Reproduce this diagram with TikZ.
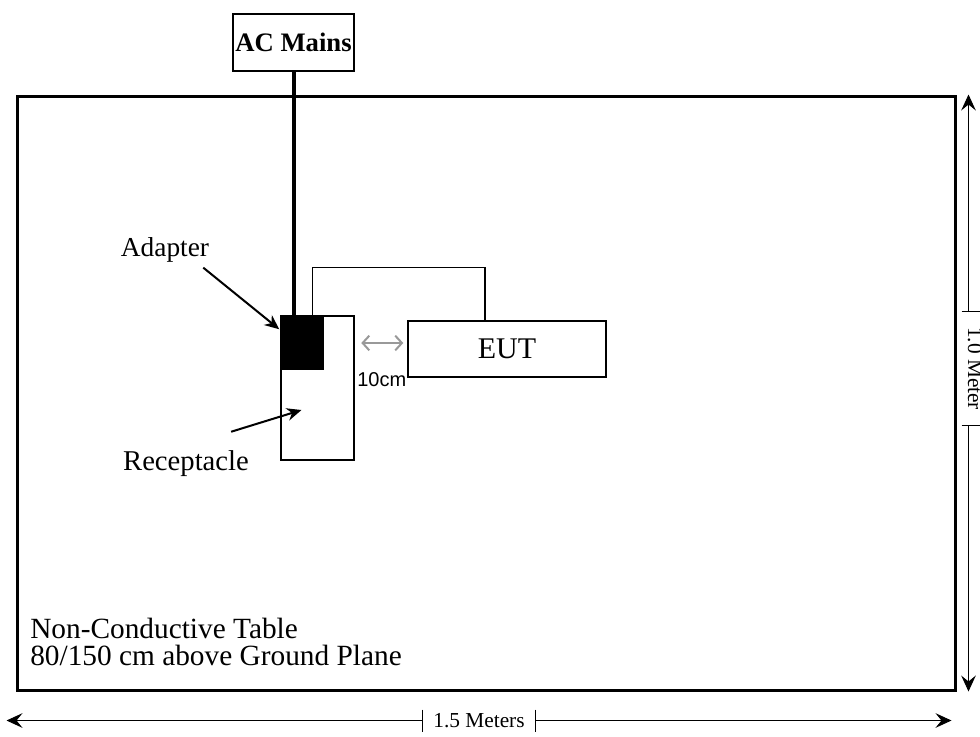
\documentclass[tikz,border=0pt]{standalone}
\usepackage{fontspec}
\setmainfont{Liberation Serif}
\setsansfont{Liberation Sans}
\usetikzlibrary{arrows.meta, positioning, calc}

\begin{document}
\begin{tikzpicture}[
    x=0.75pt, y=-0.75pt,
    >=Stealth,
    box/.style={rectangle, draw, line width=1.1pt, inner sep=0pt},
    lbl/.style={inner sep=0pt, font=\fontsize{20.5}{22}\selectfont},
    dimtext/.style={inner sep=0pt, font=\fontsize{16}{18}\selectfont},
    dim/.style={line width=0.75pt, -{Stealth[length=12pt, width=11pt, inset=4.5pt]}},
    pointer/.style={line width=1.5pt, -{Stealth[length=11pt, width=9.5pt]}},
    gap/.style={gray!80, line width=1.5pt, {Straight Barb[length=5pt, width=11pt]}-{Straight Barb[length=5pt, width=11pt]}}
]
    \useasboundingbox (0,0) rectangle (980,736);

    % Table
    \node[box, line width=2.25pt, minimum width=703.5pt, minimum height=445.5pt] (table) at (486,393) {};
    \node[inner sep=0pt, anchor=north west, align=left, font=\fontsize{22}{20}\selectfont]
        (tabletext) at (30,618) {Non-Conductive Table\\80/150 cm above Ground Plane};

    % Mains and receptacle
    \node[box, line width=1.5pt, minimum width=90.75pt, minimum height=42.75pt,
        font=\bfseries\fontsize{20}{22}\selectfont] (mains) at (293.5,42.5) {AC Mains};
    \node[box, minimum width=54.75pt, minimum height=108pt] (receptacle) at (317.5,388) {};
    \node[box, fill=black, minimum width=31.5pt, minimum height=39.75pt, anchor=north west]
        (adapter) at (receptacle.north west) {};
    \draw[line width=3pt] (mains.south) -- (mains.south |- adapter.north);

    % EUT
    \node[box, minimum width=148.5pt, minimum height=42pt, font=\fontsize{22.5}{24}\selectfont]
        (eut) at (507,349) {EUT};
    \draw[line width=1.1pt] ($(adapter.north east)+(-11,0)$) |- ($(eut.north)+(-22,-53)$)
        -- ($(eut.north)+(-22,0)$);

    % 10cm spacing
    \draw[gap] ($(eut.west)+(-46,-6)$) -- ($(eut.west)+(-4,-6)$);
    \node[inner sep=0pt, font=\sffamily\fontsize{15}{17}\selectfont] (gaplabel)
        at ($(receptacle.east)+(27,-8)$) {10cm};

    % Pointers
    \node[lbl] (adapterlabel) at (165,250) {Adapter};
    \draw[pointer] ($(adapterlabel.south east)+(-6,5)$) -- ($(adapter.north west)+(-1,14)$);
    \node[lbl, font=\fontsize{21.5}{23}\selectfont] (receptaclelabel) at (186,464) {Receptacle};
    \draw[pointer] ($(receptaclelabel.north east)+(-18,-19)$) -- ($(receptacle.center)+(-16,22)$);

    % Dimensions
    \coordinate (rtop) at ($(table.north east)+(12,0)$);
    \coordinate (rbot) at ($(table.south east)+(12,0)$);
    \node[dimtext, rotate=-90, anchor=base, minimum width=84.75pt] (heightlabel)
        at (968,368.5) {1.0 Meter};
    \draw[dim] (heightlabel.west -| rtop) -- (rtop);
    \draw[dim] (heightlabel.east -| rtop) -- (rbot);
    \draw[line width=0.75pt] ($(heightlabel.west -| rtop)+(-7,0)$) -- ++(20,0);
    \draw[line width=0.75pt] ($(heightlabel.east -| rtop)+(-7,0)$) -- ++(20,0);

    \coordinate (bleft) at ($(table.south west)+(-9,29)$);
    \coordinate (bright) at ($(table.south east)+(-5,29)$);
    \node[dimtext, minimum width=84pt] (widthlabel) at ($(bleft)!0.5!(bright)$) {1.5 Meters};
    \draw[dim] (widthlabel.west |- bleft) -- (bleft);
    \draw[dim] (widthlabel.east |- bright) -- (bright);
    \draw[line width=0.75pt] ($(widthlabel.west |- bleft)+(0,-11)$) -- ++(0,22);
    \draw[line width=0.75pt] ($(widthlabel.east |- bright)+(0,-11)$) -- ++(0,22);

\end{tikzpicture}
\end{document}
